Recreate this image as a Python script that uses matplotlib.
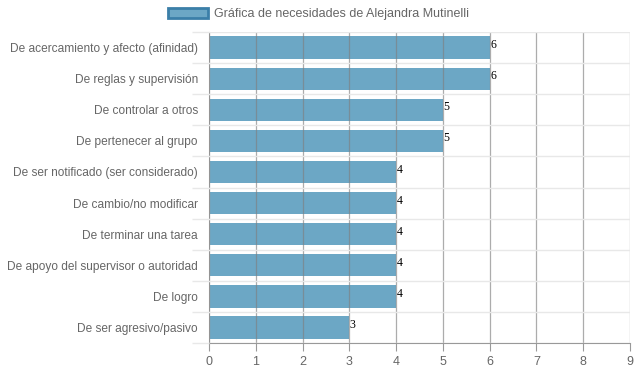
import matplotlib
matplotlib.use("Agg")
import matplotlib.pyplot as plt
from matplotlib.patches import Patch

categories = [
    "De acercamiento y afecto (afinidad)",
    "De reglas y supervisión",
    "De controlar a otros",
    "De pertenecer al grupo",
    "De ser notificado (ser considerado)",
    "De cambio/no modificar",
    "De terminar una tarea",
    "De apoyo del supervisor o autoridad",
    "De logro",
    "De ser agresivo/pasivo",
]
values = [6, 6, 5, 5, 4, 4, 4, 4, 4, 3]
xticks = list(range(0, 10))
legend_label = "Gráfica de necesidades de Alejandra Mutinelli"

plt.rcParams['font.family'] = ['Liberation Sans', 'DejaVu Sans']

fig = plt.figure(figsize=(6.37, 3.71), dpi=100)
ax = fig.add_axes([0.328, 0.0755, 0.661, 0.838])

y = list(range(len(categories)))
bar_color = '#6ca7c5'
ax.barh(y, values, height=0.72, color=bar_color, zorder=2)

for yi, v in zip(y, values):
    ax.text(v + 0.01, yi - 0.08, str(v), ha='left', va='center',
            fontsize=8.5, family='Liberation Serif', color='black', zorder=4)

ax.set_xlim(0, 9)
ax.set_ylim(len(categories) - 0.5, -0.5)
ax.set_xticks(xticks)
ax.set_yticks(y)
ax.set_yticklabels(categories)
ax.set_yticks([i + 0.5 for i in range(-1, len(categories))], minor=True)

ax.tick_params(axis='x', colors='#999999', labelcolor='#666666', labelsize=9,
               length=6, width=0.8)
ax.tick_params(axis='y', which='major', length=0, labelcolor='#666666',
               labelsize=8.6, pad=8)
ax.tick_params(axis='y', which='minor', length=12, color='#e8e8e8', width=1)

ax.grid(axis='x', which='major', color='#808080', alpha=0.65, linewidth=0.9, zorder=3)
ax.grid(axis='y', which='minor', color='#e8e8e8', linewidth=1, zorder=1)
ax.set_axisbelow(False)

for s in ['top', 'right']:
    ax.spines[s].set_visible(False)
ax.spines['left'].set_color('#bbbbbb')
ax.spines['bottom'].set_color('#999999')

handle = Patch(facecolor='#6ca7c5', edgecolor='#3b7fa8', linewidth=2)
fig.legend([handle], [legend_label], loc='upper center',
           bbox_to_anchor=(0.5, 1.01), frameon=False, fontsize=9,
           labelcolor='#666666', handlelength=3.2, handleheight=0.9,
           handletextpad=0.5)

fig.savefig('out.png', dpi=100)
